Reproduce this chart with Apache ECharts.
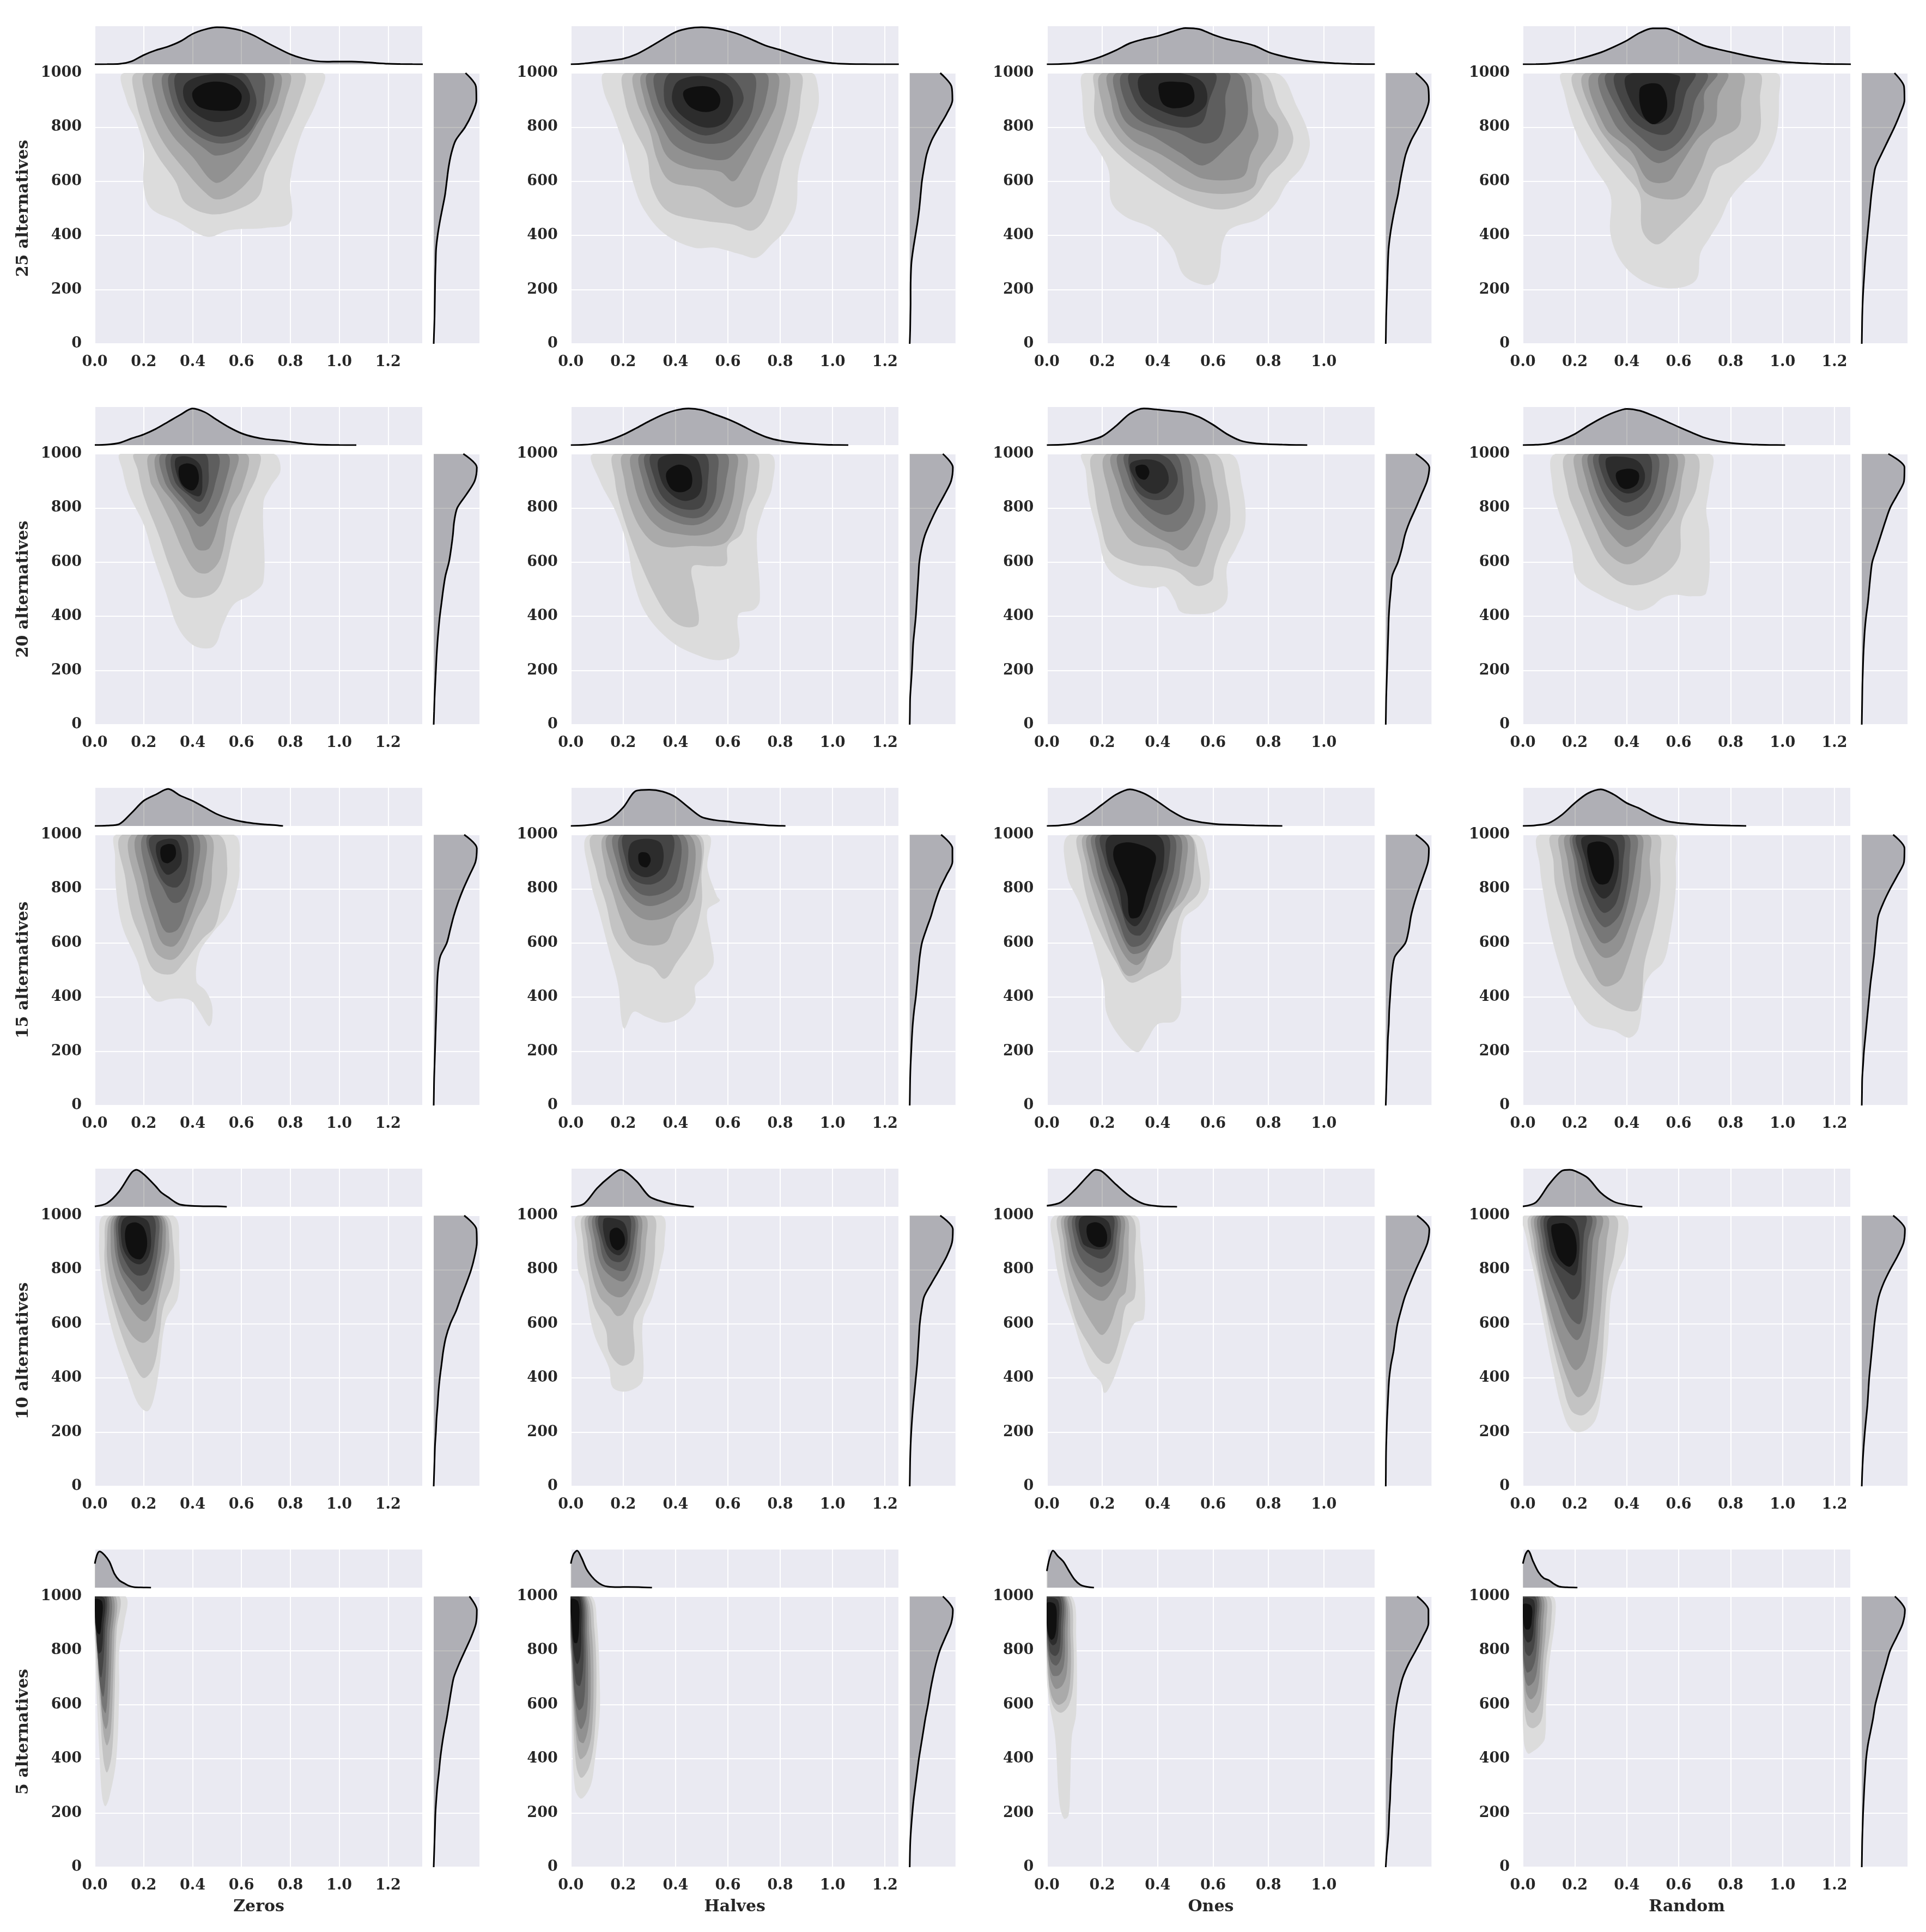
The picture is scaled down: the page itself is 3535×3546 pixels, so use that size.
<!DOCTYPE html>
<html><head><meta charset="utf-8">
<script src="https://cdn.jsdelivr.net/npm/echarts@6/dist/echarts.min.js"></script>
<style>html,body{margin:0;padding:0;background:#fff}#c{width:3535px;height:3546px}</style>
</head><body><div id="c"></div><script>
// ---------- labels / axes ----------
const rowLabels = ['25 alternatives','20 alternatives','15 alternatives','10 alternatives','5 alternatives'];
const colLabels = ['Zeros','Halves','Ones','Random'];
const xMax = [1.342, 1.253, 1.184, 1.263];
const yTicks = [0,200,400,600,800,1000];
const rightY = [0,50,100,150,200,250,300,350,400,450,500,550,600,650,700,750,800,850,900,950,1000];

// ---------- top marginal KDE curves [x, density/peak] ----------
const top25 = [
 [[0,0],[0.05,0.002],[0.1,0.01],[0.15,0.08],[0.2,0.25],[0.25,0.38],[0.3,0.48],[0.35,0.62],[0.4,0.82],[0.45,0.94],[0.5,1.0],[0.55,0.98],[0.6,0.91],[0.65,0.78],[0.7,0.6],[0.75,0.43],[0.8,0.27],[0.85,0.16],[0.9,0.09],[0.95,0.07],[1.0,0.075],[1.05,0.075],[1.1,0.06],[1.15,0.035],[1.2,0.015],[1.25,0.007],[1.3,0.002],[1.342,0]],
 [[0,0],[0.05,0.02],[0.1,0.06],[0.15,0.1],[0.2,0.15],[0.25,0.27],[0.3,0.46],[0.35,0.67],[0.4,0.87],[0.45,0.97],[0.5,1.0],[0.55,0.97],[0.6,0.9],[0.65,0.79],[0.7,0.64],[0.75,0.49],[0.8,0.39],[0.85,0.27],[0.9,0.16],[0.95,0.08],[1.0,0.03],[1.05,0.01],[1.1,0.004],[1.15,0.001],[1.253,0]],
 [[0,0],[0.05,0.008],[0.1,0.03],[0.15,0.1],[0.2,0.22],[0.25,0.38],[0.3,0.57],[0.35,0.68],[0.4,0.76],[0.45,0.88],[0.5,0.98],[0.55,0.95],[0.6,0.8],[0.65,0.68],[0.7,0.6],[0.75,0.5],[0.8,0.33],[0.85,0.22],[0.9,0.14],[0.95,0.08],[1.0,0.05],[1.05,0.025],[1.1,0.012],[1.15,0.005],[1.184,0.003]],
 [[0,0],[0.05,0.004],[0.1,0.015],[0.15,0.05],[0.2,0.12],[0.25,0.21],[0.3,0.32],[0.35,0.47],[0.4,0.64],[0.45,0.85],[0.5,0.97],[0.55,0.97],[0.6,0.84],[0.65,0.66],[0.7,0.5],[0.75,0.41],[0.8,0.33],[0.85,0.25],[0.9,0.18],[0.95,0.12],[1.0,0.07],[1.05,0.045],[1.1,0.025],[1.15,0.012],[1.2,0.005],[1.263,0.001]]
];
const top20 = [
 [[0,0.003],[0.05,0.015],[0.1,0.06],[0.15,0.18],[0.2,0.29],[0.25,0.44],[0.3,0.63],[0.35,0.82],[0.4,0.99],[0.45,0.89],[0.5,0.68],[0.55,0.48],[0.6,0.32],[0.65,0.22],[0.7,0.16],[0.75,0.13],[0.8,0.09],[0.85,0.045],[0.9,0.02],[0.95,0.008],[1.0,0.003],[1.07,0]],
 [[0,0],[0.05,0.01],[0.1,0.05],[0.15,0.14],[0.2,0.28],[0.25,0.46],[0.3,0.65],[0.35,0.82],[0.4,0.94],[0.45,0.99],[0.5,0.95],[0.55,0.83],[0.6,0.7],[0.65,0.54],[0.7,0.36],[0.75,0.21],[0.8,0.12],[0.85,0.07],[0.9,0.04],[0.95,0.02],[1.0,0.008],[1.06,0]],
 [[0,0],[0.05,0.01],[0.1,0.04],[0.15,0.12],[0.2,0.24],[0.25,0.52],[0.3,0.85],[0.35,0.99],[0.4,0.96],[0.45,0.92],[0.5,0.88],[0.55,0.76],[0.6,0.55],[0.65,0.3],[0.7,0.12],[0.75,0.05],[0.8,0.025],[0.85,0.013],[0.9,0.005],[0.94,0]],
 [[0,0],[0.05,0.01],[0.1,0.04],[0.15,0.14],[0.2,0.3],[0.25,0.52],[0.3,0.72],[0.35,0.88],[0.4,0.98],[0.45,0.93],[0.5,0.8],[0.55,0.65],[0.6,0.49],[0.65,0.34],[0.7,0.2],[0.75,0.11],[0.8,0.06],[0.85,0.03],[0.9,0.013],[0.95,0.005],[1.01,0]]
];
const top15 = [
 [[0,0],[0.05,0.01],[0.1,0.05],[0.15,0.35],[0.2,0.68],[0.25,0.85],[0.3,1.0],[0.35,0.82],[0.4,0.68],[0.45,0.5],[0.5,0.32],[0.55,0.2],[0.6,0.12],[0.65,0.07],[0.7,0.04],[0.75,0.015],[0.77,0]],
 [[0,0],[0.05,0.015],[0.1,0.06],[0.15,0.18],[0.2,0.5],[0.25,0.95],[0.3,0.98],[0.35,0.93],[0.4,0.78],[0.45,0.5],[0.5,0.24],[0.55,0.16],[0.6,0.12],[0.65,0.08],[0.7,0.05],[0.75,0.02],[0.8,0.005],[0.82,0]],
 [[0,0],[0.05,0.02],[0.1,0.08],[0.15,0.3],[0.2,0.58],[0.25,0.85],[0.3,0.99],[0.35,0.88],[0.4,0.66],[0.45,0.4],[0.5,0.2],[0.55,0.11],[0.6,0.06],[0.65,0.035],[0.7,0.025],[0.75,0.015],[0.8,0.006],[0.85,0]],
 [[0,0],[0.05,0.02],[0.1,0.08],[0.15,0.3],[0.2,0.62],[0.25,0.88],[0.3,0.99],[0.35,0.85],[0.4,0.62],[0.45,0.47],[0.5,0.28],[0.55,0.14],[0.6,0.08],[0.65,0.05],[0.7,0.03],[0.75,0.02],[0.8,0.01],[0.86,0]]
];
const top10 = [
 [[0,0.01],[0.05,0.1],[0.1,0.42],[0.15,0.92],[0.17,1.0],[0.2,0.88],[0.25,0.55],[0.27,0.4],[0.3,0.26],[0.33,0.12],[0.35,0.06],[0.4,0.025],[0.45,0.015],[0.5,0.013],[0.54,0]],
 [[0,0],[0.05,0.08],[0.1,0.5],[0.15,0.82],[0.19,1.0],[0.25,0.7],[0.3,0.28],[0.35,0.14],[0.4,0.06],[0.45,0.015],[0.47,0]],
 [[0,0.03],[0.05,0.12],[0.1,0.45],[0.15,0.85],[0.175,1.0],[0.2,0.95],[0.25,0.6],[0.3,0.28],[0.35,0.08],[0.4,0.02],[0.45,0.005],[0.47,0]],
 [[0,0.01],[0.05,0.12],[0.1,0.6],[0.15,0.97],[0.18,1.0],[0.2,0.97],[0.25,0.78],[0.3,0.38],[0.35,0.14],[0.4,0.05],[0.46,0]]
];
const top5 = [
 [[0,0.65],[0.01,0.9],[0.02,0.98],[0.04,0.88],[0.06,0.7],[0.08,0.38],[0.1,0.2],[0.12,0.12],[0.14,0.05],[0.16,0.015],[0.2,0.005],[0.23,0]],
 [[0,0.65],[0.01,0.9],[0.024,1.0],[0.04,0.82],[0.06,0.5],[0.08,0.3],[0.1,0.16],[0.12,0.07],[0.14,0.03],[0.18,0.015],[0.22,0.02],[0.26,0.015],[0.31,0]],
 [[0,0.45],[0.01,0.8],[0.022,1.0],[0.04,0.85],[0.06,0.7],[0.08,0.45],[0.1,0.22],[0.12,0.08],[0.14,0.03],[0.17,0]],
 [[0,0.65],[0.01,0.9],[0.02,1.0],[0.04,0.7],[0.06,0.42],[0.08,0.26],[0.1,0.2],[0.12,0.1],[0.14,0.03],[0.17,0.01],[0.21,0]]
];

// ---------- right marginal KDE curves: density/peak at rightY ----------
const right25 = [
 [0,0.01,0.02,0.025,0.03,0.035,0.045,0.055,0.09,0.14,0.2,0.26,0.3,0.34,0.4,0.5,0.72,0.88,0.98,0.97,0.73],
 [0,0.01,0.015,0.02,0.02,0.025,0.04,0.08,0.13,0.18,0.22,0.25,0.28,0.33,0.39,0.5,0.67,0.85,0.98,0.96,0.7],
 [0,0.005,0.01,0.02,0.03,0.04,0.05,0.065,0.1,0.15,0.21,0.28,0.33,0.39,0.46,0.58,0.75,0.9,0.99,0.97,0.69],
 [0,0.005,0.01,0.02,0.035,0.055,0.075,0.1,0.13,0.16,0.19,0.22,0.26,0.31,0.45,0.6,0.75,0.88,0.98,0.97,0.75]
];
const right20 = [
 [0,0.01,0.02,0.035,0.05,0.065,0.085,0.11,0.14,0.18,0.22,0.27,0.35,0.4,0.44,0.47,0.54,0.75,0.94,0.99,0.68],
 [0,0.005,0.01,0.03,0.05,0.065,0.08,0.11,0.14,0.16,0.18,0.2,0.22,0.27,0.35,0.48,0.63,0.8,0.95,0.99,0.76],
 [0,0.005,0.01,0.02,0.03,0.04,0.05,0.06,0.07,0.09,0.12,0.15,0.28,0.37,0.44,0.55,0.69,0.82,0.95,1.0,0.69],
 [0,0.005,0.01,0.015,0.025,0.035,0.05,0.07,0.1,0.14,0.17,0.2,0.24,0.34,0.44,0.54,0.65,0.82,0.97,0.98,0.61]
];
const right15 = [
 [0,0.005,0.01,0.02,0.03,0.04,0.05,0.06,0.07,0.08,0.1,0.15,0.3,0.38,0.46,0.56,0.68,0.82,0.96,0.99,0.7],
 [0,0.005,0.01,0.02,0.035,0.05,0.07,0.1,0.14,0.17,0.2,0.23,0.28,0.38,0.49,0.58,0.69,0.84,0.98,0.98,0.72],
 [0,0.01,0.02,0.03,0.04,0.05,0.07,0.08,0.1,0.12,0.15,0.21,0.45,0.53,0.58,0.66,0.76,0.87,0.97,0.99,0.69],
 [0,0.005,0.01,0.03,0.05,0.08,0.11,0.14,0.17,0.2,0.24,0.28,0.31,0.34,0.38,0.5,0.65,0.82,0.97,0.98,0.72]
];
const right10 = [
 [0,0.01,0.02,0.03,0.05,0.065,0.09,0.11,0.14,0.18,0.22,0.28,0.38,0.52,0.63,0.75,0.86,0.94,0.99,0.98,0.7],
 [0,0.005,0.01,0.02,0.035,0.055,0.08,0.11,0.14,0.17,0.19,0.21,0.23,0.27,0.33,0.5,0.68,0.85,0.97,0.99,0.7],
 [0,0.003,0.005,0.01,0.02,0.03,0.045,0.06,0.08,0.12,0.18,0.22,0.27,0.35,0.44,0.56,0.69,0.83,0.96,1.0,0.72],
 [0,0.01,0.025,0.045,0.07,0.1,0.13,0.15,0.17,0.2,0.23,0.26,0.29,0.33,0.39,0.5,0.65,0.82,0.96,0.99,0.72]
];
const right5 = [
 [0,0.01,0.02,0.03,0.04,0.06,0.085,0.12,0.15,0.19,0.24,0.3,0.35,0.4,0.46,0.58,0.72,0.86,0.97,0.99,0.82],
 [0,0.005,0.015,0.035,0.06,0.09,0.13,0.17,0.21,0.26,0.31,0.36,0.42,0.47,0.53,0.6,0.69,0.82,0.95,0.99,0.76],
 [0,0.02,0.05,0.07,0.08,0.1,0.11,0.13,0.14,0.16,0.18,0.21,0.25,0.31,0.39,0.52,0.69,0.85,0.98,0.98,0.72],
 [0,0.005,0.01,0.02,0.03,0.045,0.06,0.08,0.1,0.14,0.2,0.26,0.31,0.39,0.47,0.56,0.65,0.8,0.94,0.99,0.76]
];

// ---------- 2-D KDE filled contour levels (outer -> inner), vertices [x, y] ----------
const kde25Zeros = [
 [[0.12,1000],[0.13,900],[0.17,820],[0.20,720],[0.20,580],[0.23,500],[0.33,455],[0.46,395],[0.55,420],[0.70,428],[0.80,450],[0.80,600],[0.84,760],[0.91,900],[0.93,1000]],
 [[0.17,1000],[0.168,900],[0.21,780],[0.26,690],[0.33,600],[0.37,520],[0.47,479],[0.58,495],[0.67,545],[0.70,640],[0.77,760],[0.838,900],[0.85,1000]],
 [[0.21,1000],[0.213,900],[0.27,760],[0.37,640],[0.45,560],[0.50,533],[0.58,560],[0.66,640],[0.72,750],[0.78,900],[0.79,1000]],
 [[0.25,1000],[0.251,900],[0.31,780],[0.40,690],[0.49,596],[0.55,620],[0.64,720],[0.70,820],[0.749,900],[0.75,1000]],
 [[0.29,1000],[0.29,900],[0.36,790],[0.45,720],[0.50,695],[0.60,730],[0.67,820],[0.717,900],[0.72,1000]],
 [[0.315,1000],[0.315,900],[0.37,810],[0.45,755],[0.53,740],[0.62,770],[0.67,840],[0.691,900],[0.68,1000]],
 [[0.34,1000],[0.34,900],[0.40,820],[0.50,766],[0.60,790],[0.66,880],[0.64,960],[0.60,1000]],
 [[0.37,960],[0.372,890],[0.45,830],[0.52,820],[0.61,850],[0.634,920],[0.58,985],[0.47,995]],
 [[0.40,930],[0.42,880],[0.50,861],[0.58,870],[0.60,920],[0.55,960],[0.46,965]]
];
const kde25Halves = [
 [[0.13,1000],[0.124,940],[0.16,850],[0.21,710],[0.24,590],[0.28,495],[0.36,405],[0.47,355],[0.55,355],[0.65,330],[0.71,318],[0.77,370],[0.82,420],[0.86,500],[0.87,640],[0.91,770],[0.946,880],[0.94,970],[0.92,1000]],
 [[0.21,1000],[0.206,900],[0.24,800],[0.29,700],[0.31,580],[0.37,490],[0.50,456],[0.62,440],[0.69,418],[0.74,460],[0.78,560],[0.81,680],[0.86,800],[0.877,900],[0.87,1000]],
 [[0.25,1000],[0.251,900],[0.30,790],[0.33,680],[0.38,600],[0.50,573],[0.62,505],[0.69,525],[0.73,620],[0.79,760],[0.83,900],[0.82,1000]],
 [[0.28,1000],[0.281,900],[0.33,780],[0.37,690],[0.45,650],[0.57,636],[0.62,600],[0.66,650],[0.71,740],[0.76,830],[0.787,900],[0.78,1000]],
 [[0.30,1000],[0.304,900],[0.35,800],[0.40,730],[0.50,690],[0.59,680],[0.64,720],[0.70,800],[0.744,900],[0.74,1000]],
 [[0.33,1000],[0.331,900],[0.38,820],[0.45,760],[0.52,739],[0.60,750],[0.66,800],[0.697,880],[0.69,1000]],
 [[0.38,1000],[0.357,900],[0.40,830],[0.50,771],[0.58,790],[0.64,860],[0.66,910],[0.63,970],[0.58,1000]],
 [[0.40,960],[0.389,890],[0.44,830],[0.52,798],[0.59,820],[0.62,890],[0.60,950],[0.52,985],[0.45,985]],
 [[0.43,930],[0.45,880],[0.51,856],[0.56,870],[0.57,910],[0.54,945],[0.48,950]]
];
const kde25Ones = [
 [[0.138,1000],[0.128,910],[0.143,784],[0.183,721],[0.223,641],[0.233,524],[0.283,470],[0.383,425],[0.453,353],[0.494,254],[0.564,218],[0.604,227],[0.624,281],[0.634,371],[0.664,425],[0.764,461],[0.824,515],[0.864,587],[0.924,659],[0.949,748],[0.904,874],[0.824,1000]],
 [[0.178,1000],[0.173,928],[0.173,838],[0.203,766],[0.263,695],[0.353,623],[0.463,551],[0.564,506],[0.644,497],[0.724,524],[0.764,560],[0.804,623],[0.864,686],[0.889,766],[0.839,874],[0.774,1000]],
 [[0.203,1000],[0.203,865],[0.233,793],[0.283,730],[0.383,659],[0.483,587],[0.564,560],[0.664,555],[0.744,578],[0.769,650],[0.824,730],[0.834,802],[0.794,865],[0.744,1000]],
 [[0.228,1000],[0.233,892],[0.253,820],[0.313,748],[0.403,704],[0.504,641],[0.564,610],[0.664,605],[0.714,623],[0.734,695],[0.764,766],[0.744,856],[0.714,1000]],
 [[0.253,1000],[0.258,883],[0.293,811],[0.383,766],[0.483,704],[0.564,659],[0.654,730],[0.714,802],[0.724,892],[0.684,1000]],
 [[0.278,1000],[0.283,892],[0.343,820],[0.463,784],[0.564,740],[0.62,760],[0.644,838],[0.644,910],[0.654,1000]],
 [[0.303,1000],[0.313,910],[0.363,847],[0.463,802],[0.554,811],[0.584,892],[0.604,1000]],
 [[0.333,985],[0.343,910],[0.403,865],[0.504,838],[0.574,883],[0.564,964],[0.48,1000],[0.40,1000]],
 [[0.403,940],[0.42,885],[0.47,870],[0.529,895],[0.52,955],[0.46,968],[0.41,962]]
];
const kde25Random = [
 [[0.153,1000],[0.159,928],[0.203,784],[0.27,659],[0.337,551],[0.337,407],[0.382,299],[0.472,227],[0.583,205],[0.667,236],[0.684,335],[0.717,389],[0.762,461],[0.796,533],[0.84,587],[0.918,659],[0.974,766],[0.986,910],[0.974,1000]],
 [[0.203,1000],[0.226,865],[0.304,730],[0.393,623],[0.449,551],[0.461,416],[0.516,367],[0.583,416],[0.65,479],[0.695,533],[0.74,641],[0.807,677],[0.906,766],[0.913,910],[0.906,1000]],
 [[0.242,1000],[0.282,820],[0.36,713],[0.427,650],[0.471,560],[0.561,533],[0.628,551],[0.684,641],[0.729,740],[0.829,802],[0.84,892],[0.84,1000]],
 [[0.27,1000],[0.315,802],[0.416,713],[0.483,605],[0.561,600],[0.606,659],[0.673,757],[0.74,820],[0.751,910],[0.784,1000]],
 [[0.304,1000],[0.349,820],[0.438,730],[0.516,668],[0.583,695],[0.65,766],[0.695,856],[0.70,928],[0.745,1000]],
 [[0.326,1000],[0.382,838],[0.461,757],[0.527,713],[0.583,730],[0.639,802],[0.661,892],[0.706,1000]],
 [[0.36,1000],[0.404,847],[0.483,784],[0.561,776],[0.606,847],[0.628,928],[0.661,1000]],
 [[0.40,990],[0.427,874],[0.505,811],[0.572,847],[0.589,928],[0.60,990]],
 [[0.45,940],[0.46,850],[0.50,811],[0.545,840],[0.555,900],[0.53,955],[0.48,960]]
];
const kde20Zeros = [
 [[0.106,1000],[0.113,940],[0.14,850],[0.20,740],[0.24,620],[0.29,490],[0.34,360],[0.40,295],[0.47,282],[0.50,305],[0.52,360],[0.57,445],[0.64,480],[0.69,530],[0.69,820],[0.72,880],[0.76,940],[0.73,1000]],
 [[0.164,1000],[0.176,940],[0.20,845],[0.26,705],[0.31,575],[0.365,478],[0.47,478],[0.52,530],[0.57,705],[0.62,835],[0.665,925],[0.668,1000]],
 [[0.23,1000],[0.227,900],[0.25,860],[0.31,750],[0.365,635],[0.416,566],[0.466,562],[0.516,618],[0.554,790],[0.605,880],[0.617,1000]],
 [[0.26,1000],[0.26,900],[0.33,810],[0.38,723],[0.42,648],[0.47,653],[0.516,775],[0.562,900],[0.579,1000]],
 [[0.275,1000],[0.285,900],[0.33,840],[0.38,790],[0.43,731],[0.48,775],[0.529,880],[0.54,1000]],
 [[0.30,1000],[0.307,900],[0.36,836],[0.42,779],[0.45,792],[0.49,880],[0.50,1000]],
 [[0.32,1000],[0.327,900],[0.38,850],[0.43,823],[0.46,870],[0.466,930],[0.45,1000]],
 [[0.33,980],[0.345,900],[0.38,860],[0.43,845],[0.44,900],[0.43,960],[0.38,990]],
 [[0.345,950],[0.355,890],[0.40,865],[0.425,900],[0.415,950],[0.38,965]]
];
const kde20Halves = [
 [[0.087,1000],[0.111,900],[0.17,790],[0.216,660],[0.24,530],[0.287,410],[0.38,310],[0.475,260],[0.569,238],[0.64,270],[0.64,405],[0.70,425],[0.722,460],[0.711,700],[0.734,790],[0.769,880],[0.758,1000]],
 [[0.169,1000],[0.169,900],[0.181,836],[0.216,722],[0.264,600],[0.322,478],[0.381,391],[0.44,360],[0.487,373],[0.475,487],[0.464,583],[0.534,585],[0.593,592],[0.60,661],[0.652,705],[0.675,792],[0.711,880],[0.699,1000]],
 [[0.205,1000],[0.205,900],[0.23,800],[0.27,720],[0.32,670],[0.38,655],[0.46,660],[0.55,660],[0.60,680],[0.64,760],[0.668,900],[0.66,1000]],
 [[0.24,1000],[0.24,900],[0.28,790],[0.34,725],[0.405,705],[0.499,700],[0.57,730],[0.61,800],[0.628,900],[0.625,1000]],
 [[0.27,1000],[0.275,900],[0.32,800],[0.40,748],[0.49,740],[0.56,790],[0.593,900],[0.59,1000]],
 [[0.29,1000],[0.299,900],[0.34,820],[0.42,770],[0.50,768],[0.545,820],[0.558,900],[0.55,1000]],
 [[0.31,1000],[0.322,900],[0.36,830],[0.43,796],[0.50,805],[0.522,880],[0.51,1000]],
 [[0.34,985],[0.346,900],[0.39,845],[0.44,826],[0.49,850],[0.50,920],[0.47,990]],
 [[0.365,930],[0.38,875],[0.42,858],[0.46,880],[0.455,940],[0.41,960]]
];
const kde20Ones = [
 [[0.129,1000],[0.14,940],[0.151,836],[0.184,705],[0.217,583],[0.295,522],[0.384,504],[0.428,509],[0.461,461],[0.483,417],[0.539,408],[0.605,417],[0.65,461],[0.65,583],[0.683,653],[0.716,740],[0.705,880],[0.66,1000]],
 [[0.173,1000],[0.173,862],[0.195,740],[0.228,636],[0.317,592],[0.406,583],[0.472,565],[0.539,513],[0.594,531],[0.605,583],[0.627,653],[0.661,740],[0.65,880],[0.605,1000]],
 [[0.217,1000],[0.228,836],[0.262,740],[0.317,670],[0.428,644],[0.483,600],[0.539,583],[0.561,618],[0.583,688],[0.616,792],[0.605,880],[0.561,1000]],
 [[0.239,1000],[0.262,862],[0.295,775],[0.361,714],[0.439,670],[0.494,644],[0.539,705],[0.572,792],[0.561,880],[0.517,1000]],
 [[0.262,1000],[0.272,897],[0.306,827],[0.361,758],[0.428,714],[0.483,723],[0.528,792],[0.528,880],[0.494,1000]],
 [[0.284,1000],[0.295,914],[0.328,845],[0.384,792],[0.439,775],[0.483,810],[0.494,880],[0.461,1000]],
 [[0.30,1000],[0.317,880],[0.361,836],[0.428,836],[0.472,897],[0.45,970],[0.40,1000]],
 [[0.30,960],[0.339,880],[0.395,853],[0.439,897],[0.42,960],[0.36,980]],
 [[0.32,950],[0.33,915],[0.355,905],[0.37,930],[0.36,955],[0.34,960]]
];
const kde20Random = [
 [[0.126,1000],[0.114,880],[0.137,790],[0.185,660],[0.209,540],[0.30,478],[0.40,435],[0.445,421],[0.493,435],[0.54,469],[0.588,480],[0.647,474],[0.706,487],[0.718,705],[0.706,792],[0.718,880],[0.718,1000]],
 [[0.173,1000],[0.173,862],[0.209,766],[0.256,661],[0.303,583],[0.40,517],[0.517,539],[0.60,618],[0.611,749],[0.67,880],[0.659,1000]],
 [[0.209,1000],[0.209,900],[0.232,836],[0.28,723],[0.327,635],[0.40,592],[0.469,626],[0.528,705],[0.588,792],[0.611,900],[0.611,1000]],
 [[0.24,1000],[0.244,900],[0.30,760],[0.36,680],[0.40,656],[0.46,690],[0.53,770],[0.588,900],[0.58,1000]],
 [[0.26,1000],[0.268,900],[0.32,790],[0.40,720],[0.47,750],[0.53,820],[0.552,900],[0.55,1000]],
 [[0.28,1000],[0.291,900],[0.34,810],[0.40,770],[0.47,800],[0.517,900],[0.51,1000]],
 [[0.30,1000],[0.315,900],[0.36,840],[0.40,820],[0.46,850],[0.493,900],[0.48,1000]],
 [[0.32,980],[0.339,900],[0.38,860],[0.42,855],[0.46,880],[0.469,930],[0.44,975],[0.37,990]],
 [[0.36,930],[0.37,885],[0.40,870],[0.44,890],[0.445,930],[0.41,945]]
];
const kde15Zeros = [
 [[0.088,1000],[0.083,921],[0.088,791],[0.113,660],[0.176,529],[0.202,442],[0.252,385],[0.315,394],[0.39,389],[0.428,346],[0.466,293],[0.479,311],[0.479,372],[0.453,424],[0.416,459],[0.428,564],[0.479,634],[0.542,703],[0.579,791],[0.592,878],[0.567,1000]],
 [[0.113,1000],[0.126,834],[0.151,703],[0.189,616],[0.239,503],[0.315,485],[0.365,529],[0.441,616],[0.491,660],[0.516,747],[0.542,878],[0.504,1000]],
 [[0.151,1000],[0.176,791],[0.214,660],[0.252,564],[0.315,538],[0.365,581],[0.416,686],[0.466,773],[0.479,860],[0.466,1000]],
 [[0.176,1000],[0.202,808],[0.239,686],[0.277,599],[0.327,590],[0.378,668],[0.416,756],[0.441,834],[0.441,1000]],
 [[0.202,1000],[0.219,826],[0.252,721],[0.29,642],[0.34,651],[0.378,738],[0.411,834],[0.416,1000]],
 [[0.219,1000],[0.239,878],[0.277,808],[0.315,751],[0.353,756],[0.39,834],[0.39,1000]],
 [[0.227,990],[0.252,878],[0.29,817],[0.34,808],[0.378,878],[0.365,991]],
 [[0.252,965],[0.265,890],[0.30,852],[0.353,895],[0.34,974],[0.30,985]],
 [[0.27,950],[0.275,905],[0.30,895],[0.33,920],[0.325,960],[0.295,965]]
];
const kde15Halves = [
 [[0.071,1000],[0.075,834],[0.111,703],[0.146,572],[0.181,442],[0.193,319],[0.205,284],[0.24,346],[0.287,328],[0.358,306],[0.428,328],[0.475,380],[0.475,442],[0.522,485],[0.546,529],[0.534,616],[0.522,721],[0.569,756],[0.558,773],[0.522,878],[0.522,1000]],
 [[0.087,1000],[0.099,860],[0.134,747],[0.169,616],[0.24,538],[0.311,511],[0.358,468],[0.405,529],[0.464,616],[0.499,738],[0.499,834],[0.487,1000]],
 [[0.134,1000],[0.134,860],[0.158,791],[0.193,686],[0.24,607],[0.358,599],[0.405,686],[0.475,773],[0.475,1000]],
 [[0.146,1000],[0.169,843],[0.216,738],[0.287,686],[0.381,703],[0.452,773],[0.452,1000]],
 [[0.169,1000],[0.181,878],[0.216,791],[0.287,738],[0.369,756],[0.428,808],[0.428,1000]],
 [[0.193,1000],[0.205,860],[0.264,782],[0.346,782],[0.405,834],[0.405,1000]],
 [[0.205,1000],[0.212,895],[0.24,834],[0.311,817],[0.369,860],[0.385,1000]],
 [[0.228,965],[0.228,878],[0.287,843],[0.346,878],[0.346,965],[0.29,985]],
 [[0.258,925],[0.264,890],[0.29,880],[0.305,905],[0.295,930],[0.27,935]]
];
const kde15Ones = [
 [[0.084,1000],[0.539,1000],[0.583,895],[0.583,791],[0.55,738],[0.494,686],[0.483,529],[0.483,354],[0.461,311],[0.40,300],[0.361,241],[0.328,197],[0.273,241],[0.217,337],[0.206,442],[0.162,616],[0.118,747],[0.073,852]],
 [[0.12,1000],[0.51,1000],[0.55,880],[0.55,790],[0.49,720],[0.46,616],[0.44,529],[0.36,477],[0.30,455],[0.25,529],[0.195,634],[0.15,747],[0.125,878]],
 [[0.14,1000],[0.51,1000],[0.53,870],[0.50,770],[0.44,700],[0.38,600],[0.34,500],[0.29,480],[0.25,550],[0.21,660],[0.17,780],[0.145,880]],
 [[0.155,1000],[0.49,1000],[0.50,870],[0.47,760],[0.43,680],[0.38,590],[0.33,520],[0.29,540],[0.24,640],[0.20,760],[0.16,880]],
 [[0.17,1000],[0.47,1000],[0.48,870],[0.45,760],[0.41,680],[0.36,580],[0.31,560],[0.28,600],[0.24,700],[0.20,800],[0.175,900]],
 [[0.185,1000],[0.45,1000],[0.46,880],[0.43,780],[0.40,690],[0.35,600],[0.30,590],[0.26,680],[0.22,800],[0.19,900]],
 [[0.20,1000],[0.43,1000],[0.44,900],[0.41,790],[0.38,700],[0.34,630],[0.30,640],[0.27,720],[0.24,820],[0.21,900]],
 [[0.22,990],[0.30,1000],[0.41,990],[0.42,880],[0.39,800],[0.36,720],[0.32,662],[0.28,700],[0.26,800],[0.22,900]],
 [[0.25,960],[0.31,970],[0.39,930],[0.38,850],[0.36,780],[0.335,700],[0.30,695],[0.29,780],[0.26,860],[0.24,920]]
];
const kde15Random = [
 [[0.066,1000],[0.066,880],[0.078,790],[0.102,660],[0.137,530],[0.185,400],[0.256,302],[0.351,276],[0.41,250],[0.445,284],[0.469,442],[0.493,485],[0.54,529],[0.564,616],[0.588,791],[0.588,900],[0.576,1000]],
 [[0.114,1000],[0.118,900],[0.126,808],[0.173,660],[0.209,529],[0.28,424],[0.374,357],[0.445,357],[0.469,529],[0.505,660],[0.528,791],[0.528,900],[0.517,1000]],
 [[0.149,1000],[0.149,900],[0.17,780],[0.21,640],[0.26,520],[0.31,442],[0.37,460],[0.40,520],[0.445,660],[0.49,790],[0.488,900],[0.481,1000]],
 [[0.17,1000],[0.173,900],[0.20,760],[0.25,630],[0.31,547],[0.37,570],[0.41,660],[0.44,760],[0.457,900],[0.45,1000]],
 [[0.19,1000],[0.197,900],[0.22,770],[0.27,650],[0.31,599],[0.36,630],[0.40,730],[0.434,900],[0.43,1000]],
 [[0.20,1000],[0.209,900],[0.24,780],[0.31,660],[0.37,700],[0.40,800],[0.41,900],[0.40,1000]],
 [[0.21,1000],[0.227,900],[0.26,790],[0.31,712],[0.36,750],[0.386,900],[0.38,1000]],
 [[0.23,990],[0.244,900],[0.27,810],[0.31,764],[0.35,800],[0.37,900],[0.35,980]],
 [[0.25,960],[0.26,880],[0.29,820],[0.33,825],[0.351,900],[0.33,960],[0.29,975]]
];
const kde10Zeros = [
 [[0.038,1000],[0.018,916],[0.025,785],[0.05,655],[0.088,524],[0.139,394],[0.176,307],[0.214,277],[0.239,316],[0.264,437],[0.29,611],[0.34,698],[0.345,872],[0.32,1000]],
 [[0.063,1000],[0.04,880],[0.045,780],[0.07,680],[0.11,560],[0.16,450],[0.20,400],[0.24,440],[0.265,560],[0.28,660],[0.32,760],[0.32,900],[0.29,1000]],
 [[0.076,1000],[0.05,900],[0.06,780],[0.10,650],[0.15,560],[0.20,530],[0.24,570],[0.26,680],[0.29,800],[0.305,900],[0.277,1000]],
 [[0.085,1000],[0.065,900],[0.08,790],[0.12,700],[0.17,630],[0.21,610],[0.245,670],[0.27,780],[0.29,900],[0.27,1000]],
 [[0.095,1000],[0.08,900],[0.10,800],[0.14,730],[0.19,670],[0.23,700],[0.255,790],[0.275,900],[0.26,1000]],
 [[0.10,1000],[0.09,900],[0.11,810],[0.16,750],[0.20,720],[0.235,770],[0.26,900],[0.25,1000]],
 [[0.11,1000],[0.10,900],[0.125,830],[0.17,780],[0.215,790],[0.245,900],[0.235,1000]],
 [[0.12,990],[0.11,900],[0.14,840],[0.185,820],[0.22,850],[0.23,920],[0.21,985]],
 [[0.13,960],[0.126,900],[0.15,850],[0.19,840],[0.214,890],[0.20,955],[0.165,975]]
];
const kde10Halves = [
 [[0.028,1000],[0.024,900],[0.028,800],[0.052,742],[0.087,568],[0.146,437],[0.158,368],[0.193,350],[0.24,359],[0.275,394],[0.275,611],[0.311,698],[0.346,829],[0.358,900],[0.346,1000]],
 [[0.052,1000],[0.047,900],[0.064,785],[0.087,672],[0.134,577],[0.146,498],[0.193,446],[0.24,472],[0.24,611],[0.275,681],[0.311,785],[0.322,900],[0.311,1000]],
 [[0.064,1000],[0.064,900],[0.08,790],[0.11,700],[0.15,660],[0.175,630],[0.20,637],[0.23,690],[0.27,780],[0.287,900],[0.28,1000]],
 [[0.075,1000],[0.08,900],[0.10,800],[0.14,720],[0.19,698],[0.225,730],[0.255,800],[0.268,900],[0.26,1000]],
 [[0.09,1000],[0.094,900],[0.12,810],[0.17,765],[0.205,759],[0.235,810],[0.252,900],[0.245,1000]],
 [[0.10,1000],[0.111,900],[0.13,830],[0.17,800],[0.21,800],[0.24,900],[0.235,1000]],
 [[0.11,1000],[0.122,900],[0.15,840],[0.19,829],[0.218,860],[0.228,920],[0.22,1000]],
 [[0.125,985],[0.134,900],[0.16,862],[0.19,855],[0.216,900],[0.205,970],[0.16,990]],
 [[0.15,940],[0.155,890],[0.18,872],[0.205,895],[0.20,935],[0.175,955]]
];
const kde10Ones = [
 [[0.029,1000],[0.029,855],[0.051,742],[0.095,611],[0.129,498],[0.162,420],[0.195,385],[0.206,346],[0.217,350],[0.24,394],[0.262,455],[0.295,559],[0.317,603],[0.35,620],[0.35,785],[0.339,900],[0.317,1000]],
 [[0.047,1000],[0.047,900],[0.073,742],[0.106,611],[0.151,524],[0.195,463],[0.228,455],[0.262,542],[0.284,663],[0.317,698],[0.317,829],[0.30,1000]],
 [[0.062,1000],[0.062,900],[0.08,790],[0.12,680],[0.17,590],[0.20,559],[0.23,600],[0.26,690],[0.285,720],[0.295,900],[0.28,1000]],
 [[0.073,1000],[0.073,900],[0.095,800],[0.14,720],[0.20,685],[0.235,720],[0.265,800],[0.277,900],[0.27,1000]],
 [[0.085,1000],[0.086,900],[0.11,820],[0.16,760],[0.20,737],[0.24,780],[0.262,900],[0.255,1000]],
 [[0.10,1000],[0.102,900],[0.13,830],[0.17,800],[0.20,789],[0.235,820],[0.25,900],[0.245,1000]],
 [[0.11,1000],[0.118,900],[0.15,860],[0.20,841],[0.23,870],[0.24,920],[0.235,1000]],
 [[0.12,990],[0.129,900],[0.16,880],[0.20,876],[0.228,900],[0.225,970],[0.19,995]],
 [[0.145,960],[0.151,910],[0.18,885],[0.21,890],[0.217,930],[0.20,965],[0.17,975]]
];
const kde10Random = [
 [[0.007,1000],[0.014,915],[0.043,785],[0.078,611],[0.114,437],[0.149,290],[0.185,211],[0.232,203],[0.28,246],[0.303,350],[0.327,524],[0.339,698],[0.363,785],[0.398,872],[0.386,1000]],
 [[0.031,1000],[0.031,900],[0.043,846],[0.078,698],[0.114,524],[0.149,394],[0.185,281],[0.232,263],[0.28,316],[0.303,437],[0.315,611],[0.327,742],[0.355,880],[0.351,1000]],
 [[0.043,1000],[0.043,900],[0.06,800],[0.09,660],[0.13,520],[0.17,400],[0.21,330],[0.25,360],[0.28,480],[0.30,650],[0.31,780],[0.322,900],[0.32,1000]],
 [[0.055,1000],[0.055,900],[0.075,780],[0.11,640],[0.15,520],[0.20,430],[0.24,470],[0.265,600],[0.28,760],[0.291,900],[0.30,1000]],
 [[0.066,1000],[0.066,900],[0.09,790],[0.13,680],[0.17,580],[0.21,540],[0.24,600],[0.255,720],[0.268,900],[0.275,1000]],
 [[0.078,1000],[0.078,900],[0.10,810],[0.14,710],[0.185,620],[0.22,600],[0.235,680],[0.244,800],[0.25,900],[0.26,1000]],
 [[0.09,1000],[0.09,900],[0.11,830],[0.15,750],[0.19,690],[0.22,720],[0.227,820],[0.235,930],[0.24,1000]],
 [[0.10,990],[0.102,900],[0.12,840],[0.16,800],[0.20,780],[0.215,840],[0.215,940],[0.19,990]],
 [[0.11,960],[0.118,900],[0.14,840],[0.18,811],[0.205,850],[0.20,930],[0.17,968],[0.13,970]]
];
const kde5Zeros = [
 [[0.0,1000],[0.126,1000],[0.12,900],[0.10,800],[0.10,660],[0.088,400],[0.06,260],[0.043,225],[0.03,260],[0.02,400],[0.005,700],[0.0,900]],
 [[0.0,1000],[0.10,1000],[0.09,880],[0.085,780],[0.08,600],[0.07,420],[0.05,350],[0.035,400],[0.02,600],[0.005,800]],
 [[0.0,1000],[0.085,1000],[0.08,860],[0.075,700],[0.065,500],[0.05,450],[0.035,500],[0.02,700],[0.005,850]],
 [[0.0,1000],[0.075,1000],[0.07,850],[0.065,700],[0.055,540],[0.045,510],[0.03,560],[0.015,750],[0.004,880]],
 [[0.0,1000],[0.065,1000],[0.06,850],[0.055,700],[0.045,570],[0.03,600],[0.015,780],[0.003,900]],
 [[0.0,1000],[0.055,1000],[0.05,860],[0.045,720],[0.035,630],[0.02,680],[0.01,820]],
 [[0.0,1000],[0.047,1000],[0.042,880],[0.035,760],[0.025,700],[0.012,780],[0.004,900]],
 [[0.0,1000],[0.04,990],[0.035,890],[0.028,800],[0.015,790],[0.005,880]],
 [[0.0,990],[0.03,980],[0.027,900],[0.02,860],[0.008,870],[0.002,930]]
];
const kde5Halves = [
 [[0.0,1000],[0.08,1000],[0.10,900],[0.11,700],[0.11,560],[0.09,380],[0.075,300],[0.04,253],[0.016,290],[0.006,500],[0.0,800]],
 [[0.0,1000],[0.07,1000],[0.09,880],[0.098,700],[0.09,480],[0.07,370],[0.04,330],[0.02,380],[0.008,600],[0.0,850]],
 [[0.0,1000],[0.06,1000],[0.08,870],[0.087,700],[0.08,500],[0.06,420],[0.035,400],[0.02,480],[0.006,700]],
 [[0.0,1000],[0.055,1000],[0.07,860],[0.076,700],[0.07,540],[0.05,460],[0.03,470],[0.015,580],[0.005,780]],
 [[0.0,1000],[0.05,1000],[0.062,850],[0.066,700],[0.06,560],[0.04,510],[0.025,540],[0.01,700]],
 [[0.0,1000],[0.045,1000],[0.055,860],[0.056,720],[0.048,600],[0.03,580],[0.015,640],[0.005,800]],
 [[0.0,1000],[0.04,1000],[0.048,860],[0.047,740],[0.035,670],[0.02,680],[0.008,800]],
 [[0.0,1000],[0.035,995],[0.04,870],[0.036,780],[0.024,750],[0.01,800],[0.003,900]],
 [[0.0,990],[0.028,980],[0.032,900],[0.025,830],[0.012,830],[0.004,900]]
];
const kde5Ones = [
 [[0.0,1000],[0.09,1000],[0.106,850],[0.106,570],[0.09,480],[0.084,290],[0.078,190],[0.062,179],[0.045,240],[0.03,480],[0.01,600],[0.0,700]],
 [[0.0,1000],[0.08,1000],[0.095,850],[0.095,680],[0.08,600],[0.05,570],[0.02,600],[0.005,700]],
 [[0.0,1000],[0.07,1000],[0.085,850],[0.085,700],[0.07,620],[0.04,600],[0.015,640],[0.003,750]],
 [[0.0,1000],[0.065,1000],[0.075,850],[0.072,720],[0.055,670],[0.03,660],[0.01,720]],
 [[0.0,1000],[0.06,1000],[0.065,860],[0.062,750],[0.045,710],[0.02,710],[0.005,780]],
 [[0.0,1000],[0.055,1000],[0.058,870],[0.053,780],[0.035,745],[0.015,760],[0.003,830]],
 [[0.0,1000],[0.048,995],[0.05,880],[0.045,800],[0.03,780],[0.01,800]],
 [[0.0,990],[0.04,985],[0.042,890],[0.035,830],[0.02,820],[0.005,850]],
 [[0.0,975],[0.03,970],[0.035,900],[0.028,850],[0.015,840],[0.003,870]]
];
const kde5Random = [
 [[0.0,1000],[0.114,1000],[0.126,940],[0.102,755],[0.09,616],[0.085,477],[0.066,448],[0.043,430],[0.019,420],[0.003,470],[0.0,700]],
 [[0.0,1000],[0.10,1000],[0.11,920],[0.09,760],[0.08,620],[0.07,540],[0.04,513],[0.015,530],[0.003,650]],
 [[0.0,1000],[0.085,1000],[0.09,900],[0.078,760],[0.068,620],[0.04,570],[0.015,590],[0.003,700]],
 [[0.0,1000],[0.075,1000],[0.078,900],[0.068,760],[0.055,650],[0.03,620],[0.01,660]],
 [[0.0,1000],[0.065,1000],[0.068,900],[0.058,760],[0.045,690],[0.02,670],[0.005,720]],
 [[0.0,1000],[0.058,1000],[0.058,900],[0.05,780],[0.035,730],[0.015,720],[0.003,780]],
 [[0.0,1000],[0.05,995],[0.05,900],[0.042,810],[0.025,780],[0.008,800]],
 [[0.0,990],[0.042,985],[0.042,900],[0.034,840],[0.018,830],[0.004,860]],
 [[0.0,970],[0.032,965],[0.034,910],[0.026,880],[0.01,880],[0.002,910]]
];

// ---------- assembly ----------
const panels = [
  [kde25Zeros, kde25Halves, kde25Ones, kde25Random],
  [kde20Zeros, kde20Halves, kde20Ones, kde20Random],
  [kde15Zeros, kde15Halves, kde15Ones, kde15Random],
  [kde10Zeros, kde10Halves, kde10Ones, kde10Random],
  [kde5Zeros, kde5Halves, kde5Ones, kde5Random]
];
const tops = [top25, top20, top15, top10, top5];
const rights = [right25, right20, right15, right10, right5];

const levelColors = ['#dcdcdc','#c3c3c3','#aaaaaa','#919191','#777777','#5e5e5e','#454545','#2c2c2c','#101010'];
const FONT = 'DejaVu Serif';
const TXT = '#262626';
const BG = '#EAEAF2';
const tickFont = {fontFamily: FONT, fontWeight: 'bold', fontSize: 27, color: TXT};
const nameFont = {fontFamily: FONT, fontWeight: 'bold', fontSize: 30, color: TXT};
const white = {lineStyle: {color: '#ffffff', width: 2}};
const isMult = (v, s) => Math.abs(v / s - Math.round(v / s)) < 1e-6;

const grids = [], xAxes = [], yAxes = [], series = [];
const COLW = 873.7, ROWH = 699, L0 = 174, T0 = 134, MW = 602, MH = 497;

for (let r = 0; r < 5; r++) {
  for (let c = 0; c < 4; c++) {
    const left = L0 + c * COLW, top = T0 + r * ROWH;
    // main joint plot
    let gi = grids.length;
    grids.push({left, top, width: MW, height: MH, show: true, backgroundColor: BG, borderWidth: 0});
    xAxes.push({gridIndex: gi, type: 'value', min: 0, max: xMax[c], interval: 0.2,
      axisLine: {show: false}, axisTick: {show: false}, splitLine: white,
      axisLabel: Object.assign({margin: 20, showMaxLabel: false, formatter: v => isMult(v, 0.2) ? v.toFixed(1) : ''}, tickFont),
      name: r === 4 ? colLabels[c] : '', nameLocation: 'middle', nameGap: 58, nameTextStyle: nameFont});
    yAxes.push({gridIndex: gi, type: 'value', min: 0, max: 1000, interval: 200,
      axisLine: {show: false}, axisTick: {show: false}, splitLine: white,
      axisLabel: Object.assign({margin: 24, formatter: v => String(Math.round(v))}, tickFont),
      name: c === 0 ? rowLabels[r] : '', nameLocation: 'middle', nameGap: 116, nameRotate: 90, nameTextStyle: nameFont});
    const levels = panels[r][c];
    series.push({type: 'custom', xAxisIndex: gi, yAxisIndex: gi, clip: true, silent: true,
      data: levels.map((_, k) => [k]),
      renderItem: (params, api) => {
        const k = params.dataIndex;
        const pts = levels[k].map(p => api.coord(p));
        return {type: 'polygon', shape: {points: pts, smooth: 0.35}, style: {fill: levelColors[k], stroke: null}};
      }});

    // top marginal
    gi = grids.length;
    grids.push({left, top: top - 86, width: MW, height: 70, show: true, backgroundColor: BG, borderWidth: 0});
    xAxes.push({gridIndex: gi, type: 'value', min: 0, max: xMax[c], interval: 0.2,
      axisLine: {show: false}, axisTick: {show: false}, axisLabel: {show: false}, splitLine: white});
    yAxes.push({gridIndex: gi, type: 'value', min: 0, max: 1.03,
      axisLine: {show: false}, axisTick: {show: false}, axisLabel: {show: false}, splitLine: {show: false}});
    series.push({type: 'line', xAxisIndex: gi, yAxisIndex: gi, data: tops[r][c], smooth: 0.3,
      showSymbol: false, silent: true, lineStyle: {color: '#000', width: 3},
      areaStyle: {color: 'rgba(0,0,0,0.25)', opacity: 1}});

    // right marginal
    gi = grids.length;
    grids.push({left: left + MW + 20, top, width: 84, height: MH, show: true, backgroundColor: BG, borderWidth: 0});
    xAxes.push({gridIndex: gi, type: 'value', min: 0, max: 1.05,
      axisLine: {show: false}, axisTick: {show: false}, axisLabel: {show: false}, splitLine: {show: false}});
    yAxes.push({gridIndex: gi, type: 'category', data: rightY.map(String), boundaryGap: false,
      axisLine: {show: false}, axisTick: {show: false}, axisLabel: {show: false},
      splitLine: {show: true, interval: (i, v) => Number(v) % 200 === 0, lineStyle: {color: '#ffffff', width: 2}}});
    series.push({type: 'line', xAxisIndex: gi, yAxisIndex: gi, data: rights[r][c], smooth: 0.3,
      showSymbol: false, silent: true, lineStyle: {color: '#000', width: 3},
      areaStyle: {color: 'rgba(0,0,0,0.25)', opacity: 1}});
  }
}

const chart = echarts.init(document.getElementById('c'), null, {renderer: 'canvas', width: 3535, height: 3546});
chart.setOption({
  animation: false,
  backgroundColor: '#ffffff',
  grid: grids, xAxis: xAxes, yAxis: yAxes, series
});
</script></body></html>
